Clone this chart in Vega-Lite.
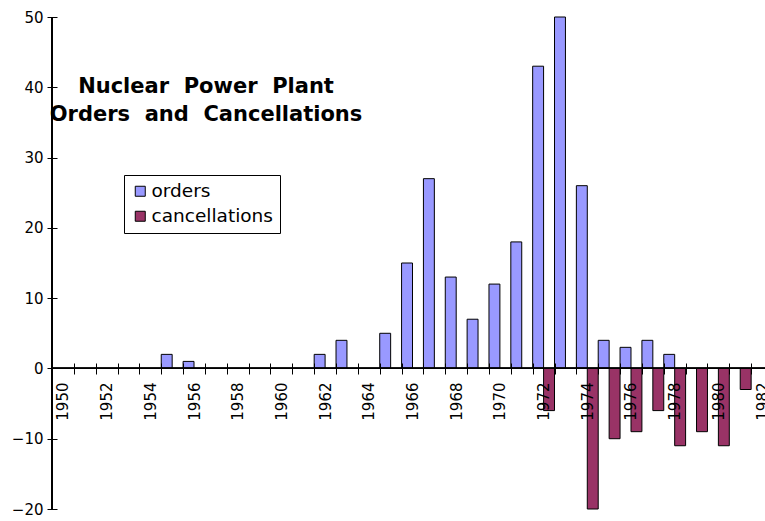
{
  "$schema": "https://vega.github.io/schema/vega-lite/v6.json",
  "width": 713,
  "height": 492,
  "autosize": {"type": "none"},
  "padding": {"left": 52, "top": 17, "right": 0, "bottom": 12},
  "background": "white",
  "title": {
    "text": ["Nuclear\u00a0 Power\u00a0 Plant", "Orders\u00a0 and\u00a0 Cancellations"],
    "orient": "top",
    "anchor": "start",
    "frame": "group",
    "align": "center",
    "baseline": "alphabetic",
    "dx": 154,
    "dy": 132,
    "offset": 0,
    "font": "DejaVu Sans",
    "fontSize": 21,
    "fontWeight": "bold",
    "color": "black",
    "lineHeight": 28
  },
  "data": {
    "values": [
      {"year": 1955, "series": "orders", "value": 2},
      {"year": 1956, "series": "orders", "value": 1},
      {"year": 1962, "series": "orders", "value": 2},
      {"year": 1963, "series": "orders", "value": 4},
      {"year": 1965, "series": "orders", "value": 5},
      {"year": 1966, "series": "orders", "value": 15},
      {"year": 1967, "series": "orders", "value": 27},
      {"year": 1968, "series": "orders", "value": 13},
      {"year": 1969, "series": "orders", "value": 7},
      {"year": 1970, "series": "orders", "value": 12},
      {"year": 1971, "series": "orders", "value": 18},
      {"year": 1972, "series": "orders", "value": 43},
      {"year": 1973, "series": "orders", "value": 50},
      {"year": 1974, "series": "orders", "value": 26},
      {"year": 1975, "series": "orders", "value": 4},
      {"year": 1976, "series": "orders", "value": 3},
      {"year": 1977, "series": "orders", "value": 4},
      {"year": 1978, "series": "orders", "value": 2},
      {"year": 1972, "series": "cancellations", "value": -6},
      {"year": 1974, "series": "cancellations", "value": -20},
      {"year": 1975, "series": "cancellations", "value": -10},
      {"year": 1976, "series": "cancellations", "value": -9},
      {"year": 1977, "series": "cancellations", "value": -6},
      {"year": 1978, "series": "cancellations", "value": -11},
      {"year": 1979, "series": "cancellations", "value": -9},
      {"year": 1980, "series": "cancellations", "value": -11},
      {"year": 1981, "series": "cancellations", "value": -3}
    ]
  },
  "layer": [
    {
      "mark": {"type": "bar", "stroke": "black", "strokeWidth": 1},
      "encoding": {
        "x": {
          "field": "year",
          "type": "ordinal",
          "scale": {
            "domain": [1950, 1951, 1952, 1953, 1954, 1955, 1956, 1957, 1958, 1959, 1960, 1961, 1962, 1963, 1964, 1965, 1966, 1967, 1968, 1969, 1970, 1971, 1972, 1973, 1974, 1975, 1976, 1977, 1978, 1979, 1980, 1981, 1982],
            "range": [0, 721],
            "paddingInner": 0,
            "paddingOuter": 0
          },
          "axis": {
            "orient": "bottom",
            "offset": -146,
            "domain": false,
            "tickBand": "extent",
            "tickSize": 11,
            "tickColor": "black",
            "labelAngle": -90,
            "labelPadding": 8,
            "labelFont": "DejaVu Sans",
            "labelFontSize": 15,
            "labelColor": "black",
            "labelOverlap": false,
            "labelExpr": "datum.value % 2 == 0 ? datum.label : ''",
            "title": null,
            "zindex": 1
          }
        },
        "xOffset": {
          "field": "series",
          "scale": {"domain": ["orders", "cancellations"], "paddingInner": 0, "paddingOuter": 0}
        },
        "y": {
          "field": "value",
          "type": "quantitative",
          "scale": {"domain": [-20, 50], "nice": false},
          "axis": {
            "orient": "left",
            "values": [-20, -10, 0, 10, 20, 30, 40, 50],
            "offset": -5,
            "tickSize": 10,
            "tickColor": "black",
            "domain": false,
            "grid": false,
            "labelPadding": 4,
            "labelFont": "DejaVu Sans",
            "labelFontSize": 15,
            "labelColor": "black",
            "title": null
          }
        },
        "color": {
          "field": "series",
          "type": "nominal",
          "scale": {"domain": ["orders", "cancellations"], "range": ["#9999FF", "#993366"]},
          "legend": {
            "title": null,
            "orient": "none",
            "legendX": 72,
            "legendY": 158,
            "strokeColor": "black",
            "fillColor": "white",
            "padding": 7,
            "rowPadding": 6,
            "labelOffset": 2,
            "labelFont": "DejaVu Sans",
            "labelFontSize": 18.5,
            "labelColor": "black",
            "symbolType": "square",
            "symbolSize": 100,
            "symbolStrokeColor": "black",
            "symbolStrokeWidth": 1
          }
        }
      }
    },
    {
      "mark": {"type": "rule", "color": "black", "strokeWidth": 1},
      "encoding": {"y": {"datum": 0}}
    },
    {
      "mark": {"type": "rule", "color": "black", "strokeWidth": 1},
      "encoding": {
        "x": {"datum": 1950, "type": "ordinal", "bandPosition": 0},
        "y": {"datum": -20},
        "y2": {"datum": 50}
      }
    }
  ],
  "config": {"view": {"stroke": null}}
}
